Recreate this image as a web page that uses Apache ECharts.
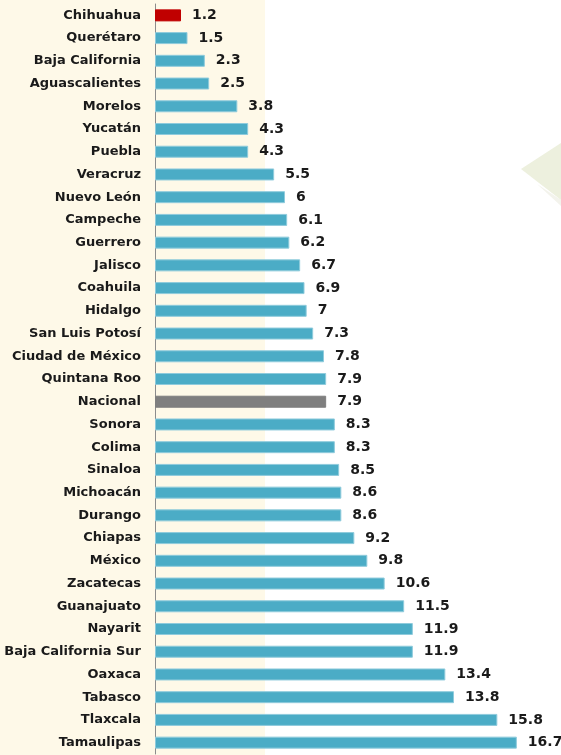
<!DOCTYPE html>
<html><head><meta charset="utf-8">
<script src="https://cdn.jsdelivr.net/npm/echarts@6/dist/echarts.min.js"></script>
<style>html,body{margin:0;padding:0;background:#fff}#c{width:561px;height:755px}</style>
</head><body><div id="c"></div>
<script>
const categories = ["Chihuahua","Querétaro","Baja California","Aguascalientes","Morelos","Yucatán","Puebla","Veracruz","Nuevo León","Campeche","Guerrero","Jalisco","Coahuila","Hidalgo","San Luis Potosí","Ciudad de México","Quintana Roo","Nacional","Sonora","Colima","Sinaloa","Michoacán","Durango","Chiapas","México","Zacatecas","Guanajuato","Nayarit","Baja California Sur","Oaxaca","Tabasco","Tlaxcala","Tamaulipas"];
const values = [1.2,1.5,2.3,2.5,3.8,4.3,4.3,5.5,6,6.1,6.2,6.7,6.9,7,7.3,7.8,7.9,7.9,8.3,8.3,8.5,8.6,8.6,9.2,9.8,10.6,11.5,11.9,11.9,13.4,13.8,15.8,16.7];
const highlight = {"Chihuahua":"#C00000","Nacional":"#7F7F7F"};
const baseColor = "#4BACC6";

const chart = echarts.init(document.getElementById('c'));
chart.setOption({
  animation:false,
  backgroundColor:'#fff',
  graphic:[
    {type:'rect',z:-10,silent:true,shape:{x:0,y:0,width:265,height:755},style:{fill:'#FEF9E8'}},
    {type:'polygon',z:-10,silent:true,shape:{points:[[521,169],[561,143],[561,200]]},style:{fill:'#EDF0DE'}},
    {type:'polygon',z:-11,silent:true,shape:{points:[[537,184],[561,200],[561,206]]},style:{fill:'#F3F3EC'}}
  ],
  grid:{left:155,right:16,top:4,bottom:1,containLabel:false},
  xAxis:{type:'value',min:0,max:18,show:false},
  yAxis:{type:'category',data:categories,inverse:true,
    axisLine:{show:true,lineStyle:{color:'#8C8C8C',width:1}},
    axisTick:{show:false},
    axisLabel:{margin:14,color:'#1A1A1A',fontFamily:'DejaVu Sans, sans-serif',fontWeight:'bold',fontSize:13}
  },
  series:[{type:'bar',barWidth:12,
    data:values.map((v,i)=>({value:v,itemStyle:{color:highlight[categories[i]]||baseColor,borderColor:highlight[categories[i]]?highlight[categories[i]]:'#8FCBDC',borderWidth:1}})),
    label:{show:true,position:'right',distance:11,color:'#1A1A1A',fontFamily:'DejaVu Sans, sans-serif',fontWeight:'bold',fontSize:14}
  }]
});
</script></body></html>
